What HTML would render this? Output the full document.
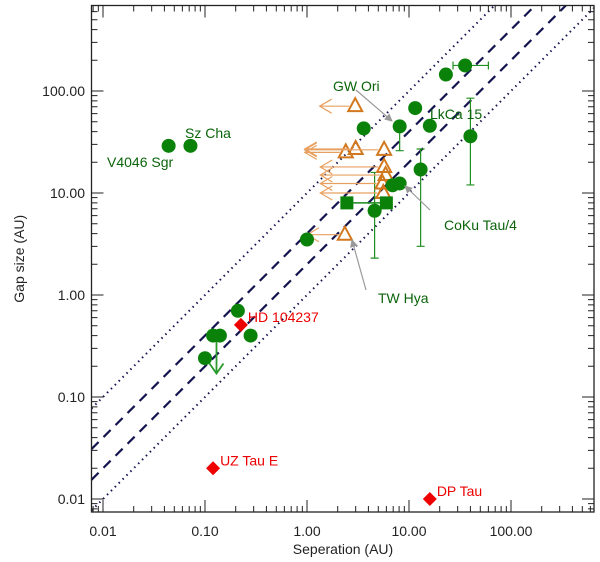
<!DOCTYPE html>
<html><head><meta charset="utf-8"><style>
html,body{margin:0;padding:0;background:#fff;width:600px;height:562px;overflow:hidden;}
svg{display:block;font-family:"Liberation Sans",sans-serif;overflow:hidden;}
</style></head><body>
<svg id="chart" width="600" height="562">
<g id="lines"></g>
<g id="marks"></g>
<g id="annot"></g>
<g id="axes"></g>
</svg>
<script>
// ---- data ----
const circX = [0.044,0.072,35.5,23,11.5,3.6,8.1,16,40,13,6.9,8.1,4.6,1.0,0.21,0.12,0.14,0.28,0.10];
const circY = [29,29,178,145,68,43,45,45.6,36,17,11.9,12.4,6.7,3.5,0.70,0.40,0.40,0.40,0.24];
const errLo = [null,null,null,null,null,null,26,null,12,3,null,null,2.3,null,null,null,null,null,null];
const errHi = [null,null,null,null,null,null,45,null,85,27,null,null,15.9,null,null,null,null,null,null];
const xErrLo = [null,null,27,null,null,null,null,null,null,null,null,null,null,null,null,null,null,null,null];
const xErrHi = [null,null,60,null,null,null,null,null,null,null,null,null,null,null,null,null,null,null,null];
const sqX = [2.46,6.0];
const sqY = [8.0,8.0];
const triX = [2.97,2.4,3.0,5.7,5.7,5.9,5.5,5.6,2.35];
const triY = [71,25,27,26.5,18,15,12.4,10,3.9];
const triArrowTo = [1.33,0.95,0.95,0.95,1.35,1.35,1.35,1.35,1.0];
const redX = [0.225,0.12,16];
const redY = [0.51,0.020,0.010];
const redNames = ["HD 104237","UZ Tau E","DP Tau"];
const ratios = [1,2,4,10];
const xTicks = [0.01,0.1,1,10,100];
const xTickLabels = ["0.01","0.10","1.00","10.00","100.00"];
const yTicks = [0.01,0.1,1,10,100];
const yTickLabels = ["0.01","0.10","1.00","10.00","100.00"];

// ---- axes functions ----
const L=91.5,R=594,T=5.5,B=512;
const x0=103,ppd=102,y0=499;
const sx=v=>x0+(Math.log10(v)+2)*ppd;
const sy=v=>y0-(Math.log10(v)+2)*ppd;
const ix=p=>Math.pow(10,(p-x0)/ppd-2);
const iy=p=>Math.pow(10,(y0-p)/ppd-2);
const NS="http://www.w3.org/2000/svg";
function mk(tag,attrs,parent){const e=document.createElementNS(NS,tag);for(const k in attrs)e.setAttribute(k,attrs[k]);parent.appendChild(e);return e;}
const gL=document.getElementById('lines'),gM=document.getElementById('marks'),gA=document.getElementById('annot'),gX=document.getElementById('axes');
const defs=mk('defs',{},document.getElementById('chart'));

const xMin=ix(L),xMax=ix(R),yMin=iy(B),yMax=iy(T);
ratios.forEach((r,i)=>{
  const xa=Math.max(xMin,yMin/r),xb=Math.min(xMax,yMax/r);
  const ln=mk('line',{x1:sx(xa),y1:sy(xa*r),x2:sx(xb),y2:sy(xb*r),stroke:'#141450','stroke-width':(r==2||r==4)?2.2:2,
    'stroke-dasharray':(r==2||r==4)?'10,7':'1.5,4'},gL);
  
  
});

const G='#1a8a1a',GL='#1f8f1f',O='#d2781e';
circX.forEach((x,i)=>{
  if(errLo[i]!=null){
    const e=mk('path',{d:`M${sx(x)},${sy(errLo[i])}V${sy(errHi[i])}M${sx(x)-4},${sy(errLo[i])}h8M${sx(x)-4},${sy(errHi[i])}h8`,stroke:GL,'stroke-width':1.2,fill:'none'},gM);
    
    
  }
  if(xErrLo[i]!=null){
    const e=mk('path',{d:`M${sx(xErrLo[i])},${sy(circY[i])}H${sx(xErrHi[i])}M${sx(xErrLo[i])},${sy(circY[i])-4}v8M${sx(xErrHi[i])},${sy(circY[i])-4}v8`,stroke:GL,'stroke-width':1.2,fill:'none'},gM);
    
    
  }
});
triX.forEach((x,i)=>{
  const px=sx(x),py=sy(triY[i]),ax=sx(triArrowTo[i]);
  const a=mk('path',{d:`M${px-6},${py}H${ax}M${ax+12},${py-7}L${ax},${py}L${ax+12},${py+7}`,stroke:'#e8a060','stroke-width':1.2,fill:'none'},gM);
  
  
  const t=mk('path',{d:`M${px},${py-8}L${px+7},${py+5}L${px-7},${py+5}Z`,stroke:O,'stroke-width':2,fill:'none'},gM);
  
  
});
const sl=mk('line',{x1:sx(sqX[0]),y1:sy(sqY[0]),x2:sx(sqX[1]),y2:sy(sqY[1]),stroke:G,'stroke-width':1.5},gM);


sqX.forEach((x,i)=>{
  const s=mk('rect',{x:sx(x)-6.5,y:sy(sqY[i])-6.5,width:13,height:13,fill:'#0a820a'},gM);
  
  
});
{const px=(sx(circX[15])+sx(circX[16]))/2,py=sy(0.40),ey=sy(0.17);
 const a=mk('path',{d:`M${px},${py}V${ey}M${px-7},${ey-10}L${px},${ey}L${px+7},${ey-10}`,stroke:'#2a9a2a','stroke-width':1.8,fill:'none'},gM);
 
 }
circX.forEach((x,i)=>{
  const c=mk('circle',{cx:sx(x),cy:sy(circY[i]),r:7,fill:'#0a820a'},gM);
  
  
});
redX.forEach((x,i)=>{
  const px=sx(x),py=sy(redY[i]);
  const d=mk('path',{d:`M${px},${py-7}L${px+7},${py}L${px},${py+7}L${px-7},${py}Z`,fill:'#ee0000'},gM);
  
  
  const t=mk('text',{x:px+7,y:py-3,fill:'#ee0000','font-size':14},gA);
  t.textContent=redNames[i];
  
  
});
const labels=[["GW Ori",333,91],["LkCa 15",430,119],["Sz Cha",185,138],["V4046 Sgr",107,167],["CoKu Tau/4",444,230],["TW Hya",378,303]];
labels.forEach(l=>{const t=mk('text',{x:l[1],y:l[2],fill:'#0a640a','font-size':14},gA);t.textContent=l[0];
  
  });
const mA=mk('marker',{id:'ga',markerWidth:8,markerHeight:8,refX:7,refY:4,orient:'auto',markerUnits:'userSpaceOnUse'},defs);
mk('path',{d:'M0,0L8,4L0,8Z',fill:'#999'},mA);
[[356,90,392,121],[430,210,405,186],[366,290,352,240]].forEach(a=>{
  const l=mk('line',{x1:a[0],y1:a[1],x2:a[2],y2:a[3],stroke:'#999','stroke-width':1.2,'marker-end':'url(#ga)'},gA);
  
  
});

const box=mk('rect',{x:L,y:T,width:R-L,height:B-T,fill:'none',stroke:'#222','stroke-width':1.3},gX);


let tp='';
for(let e=-3;e<=3;e++)for(let m=1;m<10;m++){
  const v=m*Math.pow(10,e),len=m==1?12:6;
  const px=sx(v);if(px>=L&&px<=R){tp+=`M${px},${B}v${-len}M${px},${T}v${len}`;}
  const py=sy(v);if(py>=T&&py<=B){tp+=`M${L},${py}h${len}M${R},${py}h${-len}`;}
}
const tk=mk('path',{d:tp,stroke:'#222','stroke-width':1,fill:'none'},gX);


xTicks.forEach((v,i)=>{const t=mk('text',{x:sx(v),y:536,'text-anchor':'middle','font-size':14,fill:'#222'},gX);t.textContent=xTickLabels[i];
  
  });
yTicks.forEach((v,i)=>{const t=mk('text',{x:85,y:sy(v)+5,'text-anchor':'end','font-size':14,fill:'#222'},gX);t.textContent=yTickLabels[i];
  
  });
const xt=mk('text',{x:343,y:554,'text-anchor':'middle','font-size':14,fill:'#222'},gX);xt.textContent='Seperation (AU)';


const yt=mk('text',{x:0,y:0,'text-anchor':'middle','font-size':14,fill:'#222',transform:`translate(24,${(T+B)/2}) rotate(-90)`},gX);yt.textContent='Gap size (AU)';


</script>
</body></html>
